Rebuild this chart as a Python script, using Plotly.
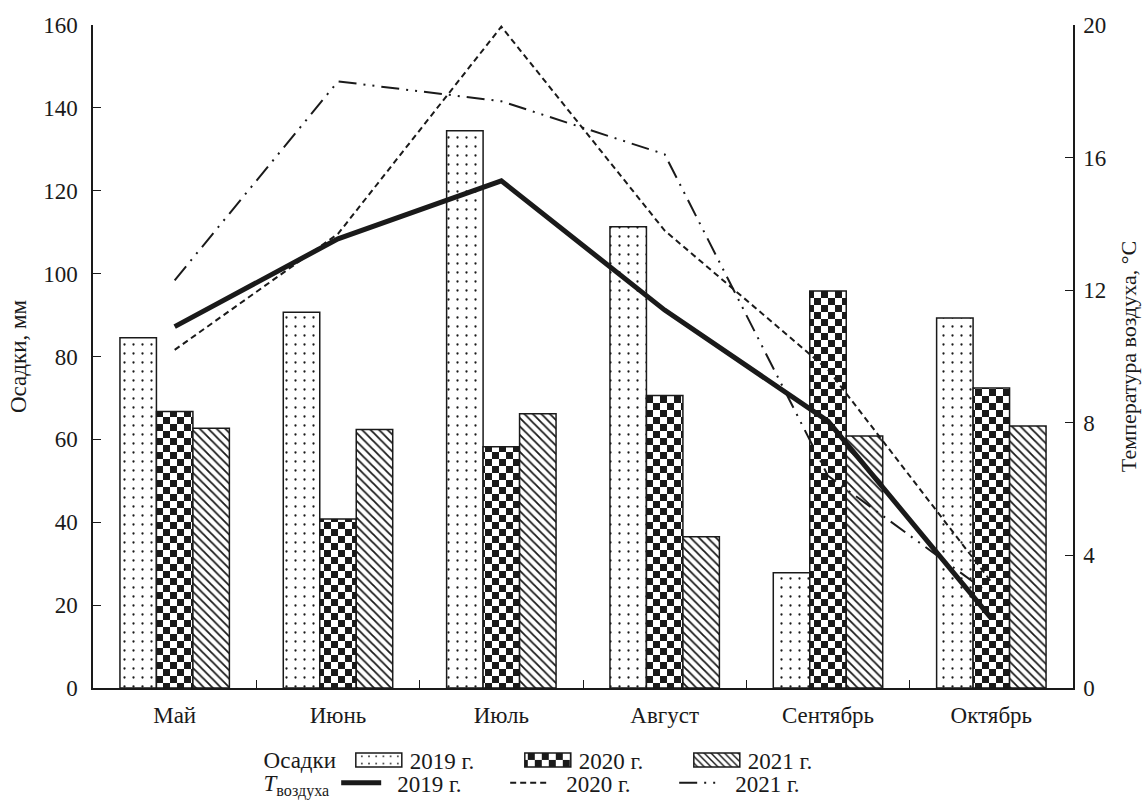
import plotly.graph_objects as go

months = ["Май", "Июнь", "Июль", "Август", "Сентябрь", "Октябрь"]

precip_2019 = [84.5, 90.7, 134.5, 111.3, 27.8, 89.3]
precip_2020 = [66.7, 40.8, 58.2, 70.6, 95.8, 72.4]
precip_2021 = [62.7, 62.4, 66.2, 36.5, 60.8, 63.2]

temp_2019 = [10.9, 13.55, 15.3, 11.4, 8.05, 2.1]
temp_2020 = [10.2, 13.7, 19.95, 13.8, 9.6, 3.2]
temp_2021 = [12.3, 18.3, 17.7, 16.1, 6.4, 2.8]

year_labels = ["2019 г.", "2020 г.", "2021 г."]

FONT = "'Liberation Serif', 'DejaVu Serif', serif"
FS = 23
INK = "#1a1a1a"

fig = go.Figure()

bar_line = dict(color=INK, width=1.5)
fig.add_trace(go.Bar(
    x=months, y=precip_2019, name=year_labels[0], legend="legend",
    marker=dict(color="white", line=bar_line,
                pattern=dict(shape=".", size=9, solidity=0.05, fgcolor=INK, bgcolor="white", fillmode="replace")),
))
fig.add_trace(go.Bar(
    x=months, y=precip_2020, name=year_labels[1], legend="legend",
    marker=dict(color="white", line=bar_line,
                pattern=dict(shape="+", size=7, solidity=0.5, fgcolor=INK, bgcolor="#fffffe", fillmode="replace")),
))
fig.add_trace(go.Bar(
    x=months, y=precip_2021, name=year_labels[2], legend="legend",
    marker=dict(color="white", line=bar_line,
                pattern=dict(shape="\\", size=6, solidity=0.3, fgcolor=INK, bgcolor="white", fillmode="replace")),
))

fig.add_trace(go.Scatter(
    x=months, y=temp_2019, name=year_labels[0], yaxis="y2", legend="legend2",
    mode="lines", line=dict(color=INK, width=5),
))
fig.add_trace(go.Scatter(
    x=months, y=temp_2020, name=year_labels[1], yaxis="y2", legend="legend2",
    mode="lines", line=dict(color=INK, width=2, dash="6px,4px"),
))
fig.add_trace(go.Scatter(
    x=months, y=temp_2021, name=year_labels[2], yaxis="y2", legend="legend2",
    mode="lines", line=dict(color=INK, width=2, dash="18px,7px,2px,7px,2px,7px"),
))

axis_common = dict(
    showline=True, linecolor=INK, linewidth=1.5,
    ticks="inside", ticklen=8, tickwidth=1.2, tickcolor=INK,
    showgrid=False, zeroline=False, automargin=False,
    tickfont=dict(family=FONT, size=FS, color=INK),
)

fig.update_layout(
    width=1146, height=800,
    margin=dict(l=93, r=73, t=25, b=112, autoexpand=False),
    paper_bgcolor="white", plot_bgcolor="white",
    font=dict(family=FONT, size=FS, color=INK),
    barmode="group", bargap=0.33, bargroupgap=0,
    xaxis=dict(**axis_common, tickson="boundaries", range=[-0.5, 5.5], ticklabelstandoff=6),
    yaxis=dict(**axis_common, range=[0, 160], dtick=20, ticklabelstandoff=9,
               title=dict(text="Осадки, мм", font=dict(family=FONT, size=FS), standoff=10)),
    yaxis2=dict(**axis_common, range=[0, 20], dtick=4, overlaying="y", side="right", ticklabelstandoff=4,
                title=dict(text="Температура воздуха, °С", font=dict(family=FONT, size=22), standoff=15)),
    legend=dict(
        orientation="h", x=0.172, xanchor="left", y=-0.1086, yanchor="middle",
        title=dict(text="Осадки ", side="left", font=dict(family=FONT, size=FS)),
        font=dict(family=FONT, size=FS), entrywidth=104, itemwidth=50,
        bgcolor="rgba(0,0,0,0)", tracegroupgap=0,
    ),
    legend2=dict(
        orientation="h", x=0.172, xanchor="left", y=-0.143, yanchor="middle",
        title=dict(text="<i>T</i><sub>воздуха</sub>", side="left", font=dict(family=FONT, size=FS)),
        font=dict(family=FONT, size=FS), entrywidth=104, itemwidth=50,
        bgcolor="rgba(0,0,0,0)",
    ),
    showlegend=True,
)

post_js = """
(function(){
  document.body.style.margin = '0';
  document.body.style.padding = '0';
  var gd = document.getElementById('{plot_id}');
  var ns = 'http://www.w3.org/2000/svg';
  function fix(){
    document.querySelectorAll('pattern').forEach(function(pt){
      if (pt.getAttribute('data-checker')) return;
      var r = pt.querySelector('rect');
      if (!r) return;
      var f = ((r.getAttribute('fill') || '') + ' ' + (r.style.fill || '')).toLowerCase();
      if (f.indexOf('254') >= 0 || f.indexOf('fffffe') >= 0) {
        while (pt.firstChild) pt.removeChild(pt.firstChild);
        var s = 7;
        pt.setAttribute('width', 2 * s); pt.setAttribute('height', 2 * s);
        pt.removeAttribute('patternTransform');
        var bg = document.createElementNS(ns, 'rect');
        bg.setAttribute('width', 2 * s); bg.setAttribute('height', 2 * s); bg.setAttribute('fill', '#ffffff');
        pt.appendChild(bg);
        [[0, 0], [s, s]].forEach(function(p){
          var q = document.createElementNS(ns, 'rect');
          q.setAttribute('x', p[0]); q.setAttribute('y', p[1]);
          q.setAttribute('width', s); q.setAttribute('height', s);
          q.setAttribute('fill', '#1a1a1a');
          pt.appendChild(q);
        });
        pt.setAttribute('data-checker', '1');
      }
    });
    document.querySelectorAll('g.legendpoints path').forEach(function(p){
      p.setAttribute('d', 'M22,7H-24V-7H22Z');
    });
    document.querySelectorAll('g.legendlines path').forEach(function(p){
      p.setAttribute('d', 'M4,0h40');
    });
  }
  fix();
  if (gd && gd.on) gd.on('plotly_afterplot', fix);
  setTimeout(fix, 200);
  setTimeout(fix, 800);
})();
"""

fig.write_html("out.html", post_script=post_js, config={"displayModeBar": False})
